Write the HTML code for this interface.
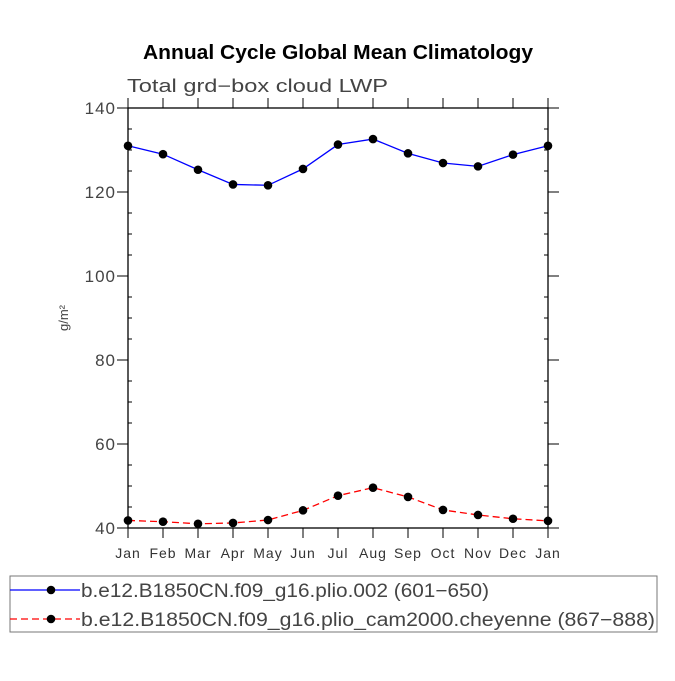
<!DOCTYPE html>
<html><head><meta charset="utf-8"><style>
body{margin:0;background:#fff;}
text{font-family:"Liberation Sans",sans-serif;}
</style></head><body>
<svg id="chart" width="675" height="676" viewBox="0 0 675 676" xmlns="http://www.w3.org/2000/svg">
<text x="143" y="59" textLength="390" lengthAdjust="spacingAndGlyphs" font-size="20" font-weight="bold">Annual Cycle Global Mean Climatology</text>
<text x="127" y="92" font-size="18" fill="#444" textLength="261" lengthAdjust="spacingAndGlyphs">Total grd−box cloud LWP</text>
<text x="68" y="318" font-size="13" fill="#444" transform="rotate(-90 68 318)" text-anchor="middle">g/m²</text>
<g id="axes"></g>
<g id="series"></g>
<rect x="10" y="576" width="647" height="56" fill="none" stroke="#777" stroke-width="1"/>
<g id="legend"></g>
</svg>
<script>
const months=["Jan","Feb","Mar","Apr","May","Jun","Jul","Aug","Sep","Oct","Nov","Dec","Jan"];
const blueVals=[131.0,129.0,125.3,121.8,121.6,125.5,131.3,132.6,129.2,126.9,126.1,128.9,131.0];
const redVals=[41.8,41.5,41.0,41.2,41.9,44.2,47.7,49.6,47.4,44.3,43.1,42.2,41.7];
const yTicks=[40,60,80,100,120,140];
const seriesNames=["b.e12.B1850CN.f09_g16.plio.002 (601−650)","b.e12.B1850CN.f09_g16.plio_cam2000.cheyenne (867−888)"];
const NS="http://www.w3.org/2000/svg";
const L=128,R=548,T=108,B=528;
const xs=i=>L+i*(R-L)/(months.length-1);
const ys=v=>B-(v-40)/(140-40)*(B-T);
function mk(tag,attrs,parent){const e=document.createElementNS(NS,tag);for(const k in attrs)e.setAttribute(k,attrs[k]);parent.appendChild(e);return e;}
const ax=document.getElementById('axes');
const frame=mk('rect',{x:L,y:T,width:R-L,height:B-T,fill:'none',stroke:'#000','stroke-width':1.3},ax);


months.forEach((m,i)=>{
  const x=xs(i);
  mk('line',{x1:x,y1:B,x2:x,y2:B+10,stroke:'#000'},ax);
  mk('line',{x1:x,y1:T,x2:x,y2:T-10,stroke:'#000'},ax);
  const t=mk('text',{x:x,y:B+30,'text-anchor':'middle','font-size':14,'letter-spacing':1,fill:'#333'},ax);
  t.textContent=m;
  
  
});
for(let v=40;v<=140;v+=5){
  const y=ys(v);
  if(v%20===0){
    mk('line',{x1:L-11,y1:y,x2:L,y2:y,stroke:'#000'},ax);
    mk('line',{x1:R,y1:y,x2:R+11,y2:y,stroke:'#000'},ax);
  }else{
    mk('line',{x1:L,y1:y,x2:L+4,y2:y,stroke:'#000'},ax);
    mk('line',{x1:R-4,y1:y,x2:R,y2:y,stroke:'#000'},ax);
  }
}
yTicks.forEach(v=>{
  const t=mk('text',{x:L-12,y:ys(v)+6,'text-anchor':'end','font-size':17,'letter-spacing':1,fill:'#444'},ax);
  t.textContent=v;
  
  
});
const sg=document.getElementById('series');
function drawSeries(vals,color,dash,name){
  const g=mk('g',{},sg);
  
  
  const pl=mk('polyline',{points:vals.map((v,i)=>xs(i)+','+ys(v)).join(' '),fill:'none',stroke:color,'stroke-width':1.3,'stroke-dasharray':dash},g);
  
  
  vals.forEach((v,i)=>{
    const c=mk('circle',{cx:xs(i),cy:ys(v),r:4.3,fill:'#000'},g);
    
    
  });
}
drawSeries(blueVals,'#0000ff','none','series-plio-002');
drawSeries(redVals,'#ff0000','7,4','series-plio-cam2000');
const lg=document.getElementById('legend');
const legLens=[408,574];
[[ '#0000ff','none',590],['#ff0000','7,4',619]].forEach((s,i)=>{
  const g=mk('g',{},lg);
  
  
  mk('line',{x1:10,y1:s[2],x2:80,y2:s[2],stroke:s[0],'stroke-width':1.3,'stroke-dasharray':s[1]},g);
  mk('circle',{cx:51,cy:s[2],r:4.3,fill:'#000'},g);
  const t=mk('text',{x:81,y:s[2]+7,'font-size':19,fill:'#444',textLength:legLens[i],lengthAdjust:'spacingAndGlyphs'},g);
  t.textContent=seriesNames[i];
});
</script>
</body></html>
